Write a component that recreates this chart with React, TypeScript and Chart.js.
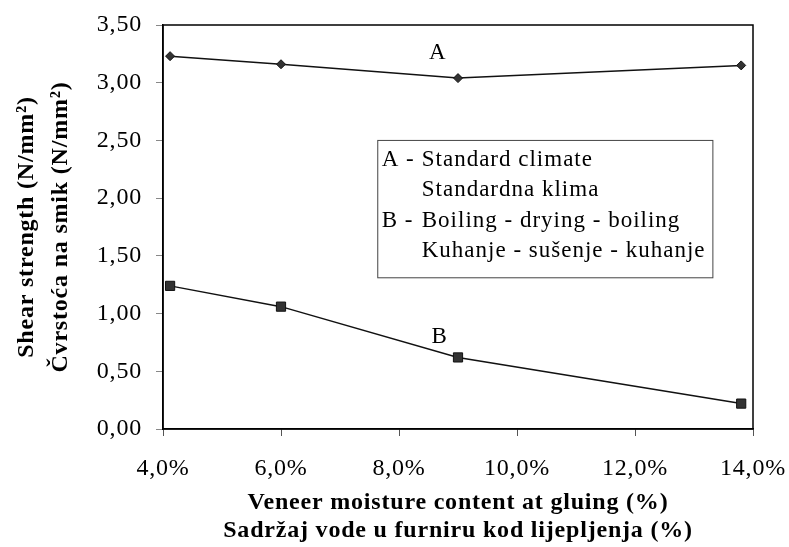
import React, { useEffect, useRef } from 'react';
import { Chart, registerables } from 'chart.js';

Chart.register(...registerables);

// ---- data ----
const moisture = [4.12, 6.0, 9.0, 13.8];
const seriesA = [3.23, 3.16, 3.04, 3.15];
const seriesB = [1.24, 1.06, 0.62, 0.22];
const seriesNames = ['A', 'B'];
const xTitle = ['Veneer moisture content at gluing (%)', 'Sadržaj vode u furniru kod lijepljenja (%)'];
const yTitle = ['Shear strength (N/mm²)', 'Čvrstoća na smik (N/mm²)'];
const legendLines = [
  { key: 'A - ', text: 'Standard climate' },
  { key: '', text: 'Standardna klima' },
  { key: 'B - ', text: 'Boiling - drying - boiling' },
  { key: '', text: 'Kuhanje - sušenje - kuhanje' },
];

const FONT = '"Liberation Serif", "Times New Roman", serif';

const framePlugin = {
  id: 'frame',
  beforeDraw(chart: any) {
    chart.ctx.letterSpacing = '0.8px';
  },
  afterDraw(chart: any) {
    const { ctx, chartArea: a, scales } = chart;
    const x = scales.x;
    const y = scales.y;
    ctx.save();
    ctx.strokeStyle = '#000';
    ctx.lineWidth = 1.5;
    ctx.strokeRect(a.left, a.top, a.right - a.left, a.bottom - a.top);

    // series labels
    ctx.letterSpacing = '0px';
    ctx.font = `23px ${FONT}`;
    ctx.fillStyle = '#000';
    ctx.textAlign = 'center';
    ctx.textBaseline = 'middle';
    ctx.fillText(seriesNames[0], x.getPixelForValue(8.65), y.getPixelForValue(3.26));
    ctx.fillText(seriesNames[1], x.getPixelForValue(8.68), y.getPixelForValue(0.8));

    // legend box
    const bl = x.getPixelForValue(7.64);
    const bt = y.getPixelForValue(2.5);
    const br = x.getPixelForValue(13.32);
    const bb = y.getPixelForValue(1.31);
    ctx.fillStyle = '#fff';
    ctx.fillRect(bl, bt, br - bl, bb - bt);
    ctx.strokeStyle = '#444';
    ctx.lineWidth = 1;
    ctx.strokeRect(bl, bt, br - bl, bb - bt);
    ctx.fillStyle = '#000';
    ctx.textAlign = 'left';
    ctx.textBaseline = 'alphabetic';
    ctx.letterSpacing = '1px';
    const baselines = [26, 56, 87, 117];
    legendLines.forEach((ln, i) => {
      if (ln.key) ctx.fillText(ln.key, bl + 4, bt + baselines[i]);
      ctx.fillText(ln.text, bl + 44, bt + baselines[i]);
    });
    ctx.restore();
  },
};

export default function App() {
  const ref = useRef<HTMLCanvasElement | null>(null);
  useEffect(() => {
    document.body.style.margin = '0';
    const canvas = ref.current;
    if (!canvas) return;
    const chart = new Chart(canvas, {
      type: 'line',
      data: {
        datasets: [
          {
            label: seriesNames[0],
            data: moisture.map((m, i) => ({ x: m, y: seriesA[i] })),
            borderColor: '#111',
            borderWidth: 1.5,
            backgroundColor: '#333',
            pointBackgroundColor: '#333',
            pointBorderColor: '#111',
            pointBorderWidth: 1,
            pointStyle: 'rectRot',
            pointRadius: 4.5,
            tension: 0,
          },
          {
            label: seriesNames[1],
            data: moisture.map((m, i) => ({ x: m, y: seriesB[i] })),
            borderColor: '#111',
            borderWidth: 1.5,
            backgroundColor: '#333',
            pointBackgroundColor: '#333',
            pointBorderColor: '#111',
            pointBorderWidth: 1,
            pointStyle: 'rect',
            pointRadius: 6.5,
            tension: 0,
          },
        ],
      },
      options: {
        animation: false,
        responsive: false,
        devicePixelRatio: 1,
        layout: { padding: { left: 0, top: 25, right: 36, bottom: 1 } },
        plugins: {
          legend: { display: false },
          tooltip: { enabled: false },
        },
        scales: {
          x: {
            type: 'linear',
            min: 4,
            max: 14,
            afterFit: (s: any) => { s.height = 117; s.paddingLeft = 0; s.paddingRight = 0; },
            border: { display: true, color: '#000', width: 1.5 },
            grid: { display: true, drawOnChartArea: false, tickLength: 7, color: '#555' },
            ticks: {
              stepSize: 2,
              padding: 18,
              color: '#000',
              font: { family: FONT, size: 24 },
              callback: (v: any) => Number(v).toFixed(1).replace('.', ',') + '%',
            },
            title: {
              display: true,
              text: xTitle,
              color: '#000',
              font: { family: FONT, size: 24, weight: 'bold', lineHeight: 28 / 24 },
              padding: { top: 0, bottom: 1 },
            },
          },
          y: {
            min: 0,
            max: 3.5,
            afterFit: (s: any) => { s.width = 163; s.paddingTop = 0; s.paddingBottom = 0; },
            border: { display: true, color: '#000', width: 1.5 },
            grid: { display: true, drawOnChartArea: false, tickLength: 7, color: '#888' },
            ticks: {
              stepSize: 0.5,
              padding: 14,
              color: '#000',
              font: { family: FONT, size: 24 },
              callback: (v: any) => Number(v).toFixed(2).replace('.', ','),
            },
            title: {
              display: true,
              text: yTitle,
              color: '#000',
              font: { family: FONT, size: 24, weight: 'bold', lineHeight: 34 / 24 },
              padding: { top: 10, bottom: 0 },
            },
          },
        },
      },
      plugins: [framePlugin],
    } as any);
    return () => chart.destroy();
  }, []);
  return (
    <div style={{ width: 789, height: 547 }}>
      <canvas ref={ref} width={789} height={547} style={{ display: 'block' }} />
    </div>
  );
}
